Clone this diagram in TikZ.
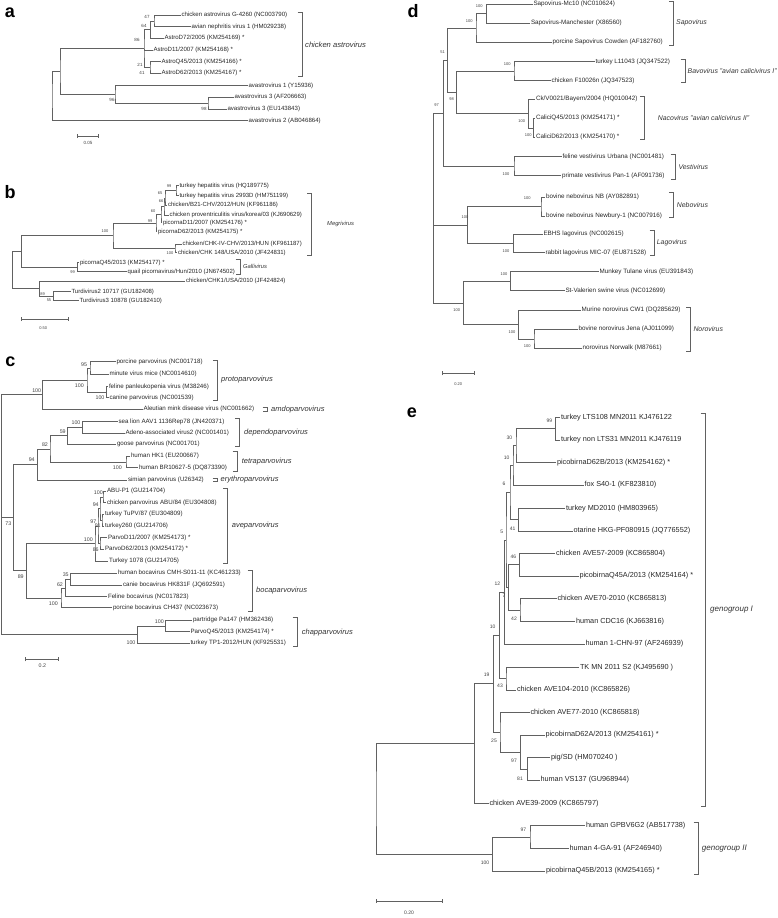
\documentclass[tikz,border=0pt]{standalone}
\usepackage{fontspec}
\setmainfont{Liberation Sans}
\usetikzlibrary{calc,arrows.meta}
\newcommand\leaf[4]{\node[leaf] (#1) at (#2,#3) {#4};}
\newcommand\clade[4]{\path ($(#3)!.5!(#4)$) coordinate (#1m);
  \coordinate (#1) at (#2,0 |- #1m);
  \draw[branch] (#3) -| (#1) |- (#4);}
\newcommand\bs[4]{\node[boot] (#1) at (#2,#3) {#4};}
\newcommand\brak[6]{\draw[brk] (#2-4.5,#3) -| (#2,#4) -- (#2-4.5,#4);
  \node[grp] (#1) at (#5,{(#3+#4)/2}) {#6};}
\tikzset{
  branch/.style={draw=black!62, line width=0.55pt},
  brk/.style={draw=black!62, line width=0.55pt},
  sbar/.style={draw=black!62, line width=0.55pt, {Bar[width=4pt]}-{Bar[width=4pt]}},
  leaf/.style={anchor=west, inner sep=0.8pt, text=black!85},
  boot/.style={inner sep=0pt, text=black!75},
  grp/.style={anchor=west, inner sep=0pt, text=black!80},
  panel/.style={inner sep=0pt, font=\fontsize{18}{20}\bfseries\selectfont}
}

\begin{document}
\begin{tikzpicture}[x=1pt,y=-1pt]
    \useasboundingbox (0,0) rectangle (778,918);

    % a
    \begin{scope}[leaf/.append style={font=\fontsize{6.1}{7}\selectfont},
                  boot/.append style={font=\fontsize{4.5}{5}\selectfont},
                  grp/.append style={font=\fontsize{7.6}{9}\selectfont\itshape}]
        \node[panel] (pa) at (10,13) {a};
        \leaf{a1}{180.5}{15}{chicken astrovirus G-4260 (NC003790)}
        \leaf{a2}{190.5}{26.7}{avian nephritis virus 1 (HM029238)}
        \leaf{a3}{163.5}{38.3}{AstroD72/2005 (KM254169) *}
        \leaf{a4}{152.5}{50}{AstroD11/2007 (KM254168) *}
        \leaf{a5}{160.5}{61.7}{AstroQ45/2013 (KM254166) *}
        \leaf{a6}{160.5}{73.3}{AstroD62/2013 (KM254167) *}
        \leaf{a7}{247.5}{85.7}{avastrovirus 1 (Y15936)}
        \leaf{a8}{233.5}{97.3}{avastrovirus 3 (AF206663)}
        \leaf{a9}{226.5}{109}{avastrovirus 3 (EU143843)}
        \leaf{a10}{247.5}{120.7}{avastrovirus 2 (AB046864)}
        \clade{a12}{154}{a1}{a2}
        \clade{a123}{150.5}{a12}{a3}
        \clade{a56}{150}{a5}{a6}
        \clade{ach}{144}{a123}{a56}
        \draw[branch] (ach) |- (a4);
        \clade{a89}{208}{a8}{a9}
        \clade{a789}{115}{a7}{a89}
        \clade{aR}{60}{ach}{a789}
        \clade{aroot}{52}{aR}{a10}
        \bs{ba1}{147}{17}{47}
        \bs{ba2}{144}{25.7}{64}
        \bs{ba3}{137}{40}{86}
        \bs{ba4}{140}{65}{21}
        \bs{ba5}{142}{73}{41}
        \bs{ba6}{112}{100}{96}
        \bs{ba7}{204}{109}{98}
        \brak{ga}{302}{12.7}{76.7}{305}{chicken astrovirus}
        \draw[sbar] (77,136) -- (99,136);
        \node[boot] (sa) at (88,143) {0.05};
    \end{scope}

    % b
    \begin{scope}[leaf/.append style={font=\fontsize{6}{7}\selectfont},
                  boot/.append style={font=\fontsize{4}{5}\selectfont},
                  grp/.append style={font=\fontsize{5.8}{7}\selectfont\itshape}]
        \node[panel] (pb) at (10,192) {b};
        \leaf{b1}{178.5}{185.7}{turkey hepatitis virus (HQ189775)}
        \leaf{b2}{178.5}{195.7}{turkey hepatitis virus 2993D (HM751199)}
        \leaf{b3}{167}{205}{chicken/B21-CHV/2012/HUN (KF961186)}
        \leaf{b4}{168.5}{215}{chicken proventriculitis virus/korea/03 (KJ690629)}
        \leaf{b5}{162}{222.7}{picornaD11/2007 (KM254176) *}
        \leaf{b6}{157}{231.7}{picornaD62/2013 (KM254175) *}
        \leaf{b7}{181.5}{244}{chicken/CHK-IV-CHV/2013/HUN (KF961187)}
        \leaf{b8}{177}{252.7}{chicken/CHK 148/USA/2010 (JF424831)}
        \leaf{b9}{79}{262.7}{picornaQ45/2013 (KM254177) *}
        \leaf{b10}{126.5}{271.7}{quail picornavirus/Hun/2010 (JN674502)}
        \leaf{b11}{185}{281}{chicken/CHK1/USA/2010 (JF424824)}
        \leaf{b12}{70.5}{291.7}{Turdivirus2 10717 (GU182408)}
        \leaf{b13}{78.5}{300.7}{Turdivirus3 10878 (GU182410)}
        \clade{b12n}{176}{b1}{b2}
        \clade{b123}{165}{b12n}{b3}
        \clade{b1234}{164}{b123}{b4}
        \clade{b12345}{161}{b1234}{b5}
        \clade{bup}{156}{b12345}{b6}
        \clade{b78}{175}{b7}{b8}
        \clade{bM}{113}{bup}{b78}
        \clade{bG}{77.3}{b9}{b10}
        \clade{bR}{21.7}{bM}{bG}
        \clade{bT}{53.3}{b12}{b13}
        \clade{bO}{39.7}{b11}{bT}
        \clade{broot}{12.3}{bR}{bO}
        \bs{bb1}{169}{186}{99}
        \bs{bb2}{160}{193.3}{65}
        \bs{bb3}{161}{201}{66}
        \bs{bb4}{153}{211}{60}
        \bs{bb5}{150}{221}{99}
        \bs{bb6}{105}{230.7}{100}
        \bs{bb7}{170}{252.7}{100}
        \bs{bb8}{72.7}{271.7}{99}
        \bs{bb9}{42.7}{293.7}{89}
        \bs{bb10}{49}{300.3}{55}
        \brak{gb1}{311.7}{193.3}{255}{327}{Megrivirus}
        \brak{gb2}{240}{259.3}{274.3}{243}{Gallivirus}
        \draw[sbar] (20.7,319) -- (68.3,319);
        \node[boot] (sb) at (43.3,328.3) {0.50};
    \end{scope}

    % c
    \begin{scope}[leaf/.append style={font=\fontsize{6.2}{7}\selectfont},
                  boot/.append style={font=\fontsize{5.3}{6}\selectfont},
                  grp/.append style={font=\fontsize{7.5}{9}\selectfont\itshape}]
        \node[panel] (pc) at (10.5,361.7) {c};
        \leaf{c1}{115.5}{361.7}{porcine parvovirus (NC001718)}
        \leaf{c2}{108.5}{374.3}{minute virus mice (NC0014610)}
        \leaf{c3}{108}{386.7}{feline panleukopenia virus (M38246)}
        \leaf{c4}{108.5}{397.7}{canine parvovirus (NC001539)}
        \leaf{c5}{142.5}{409.3}{Aleutian mink disease virus (NC001662)}
        \leaf{c6}{117.5}{421.7}{sea lion AAV1 1136Rep78 (JN420371)}
        \leaf{c7}{124.5}{433.3}{Adeno-associated virus2 (NC001401)}
        \leaf{c8}{116}{444}{goose parvovirus (NC001701)}
        \leaf{c9}{130}{456}{human HK1 (EU200667)}
        \leaf{c10}{138}{467.7}{human BR10627-5 (DQ873390)}
        \leaf{c11}{127}{480}{simian parvovirus (U26342)}
        \leaf{c12}{106}{491}{ABU-P1 (GU214704)}
        \leaf{c13}{106}{502.7}{chicken parvovirus ABU/84 (EU304808)}
        \leaf{c14}{104}{514.3}{turkey TuPV/87 (EU304809)}
        \leaf{c15}{104}{526}{turkey260 (GU214706)}
        \leaf{c16}{107}{537.7}{ParvoD11/2007 (KM254173) *}
        \leaf{c17}{104}{549.3}{ParvoD62/2013 (KM254172) *}
        \leaf{c18}{108}{561}{Turkey 1078 (GU214705)}
        \leaf{c19}{117}{573.3}{human bocavirus CMH-S011-11 (KC461233)}
        \leaf{c20}{122}{585}{canie bocavirus HK831F (JQ692591)}
        \leaf{c21}{107}{596.7}{Feline bocavirus (NC017823)}
        \leaf{c22}{112}{607.7}{porcine bocavirus CH437 (NC023673)}
        \leaf{c23}{192}{620}{partridge Pa147 (HM362436)}
        \leaf{c24}{189.5}{631.7}{ParvoQ45/2013 (KM254174) *}
        \leaf{c25}{189.5}{643.3}{turkey TP1-2012/HUN (KF925531)}
        \clade{c12n}{90}{c1}{c2}
        \clade{c34}{106.5}{c3}{c4}
        \clade{cP}{87}{c12n}{c34}
        \clade{cPA}{42.7}{cP}{c5}
        \clade{c67}{82.3}{c6}{c7}
        \clade{cDep}{67.7}{c67}{c8}
        \clade{cTet}{126}{c9}{c10}
        \clade{c82}{50}{cDep}{cTet}
        \clade{c94}{37.3}{c82}{c11}
        \clade{c1213}{103}{c12}{c13}
        \clade{c1415}{102}{c14}{c15}
        \clade{c94b}{100}{c1213}{c1415}
        \clade{c1617}{100}{c16}{c17}
        \clade{c97}{98}{c94b}{c1617}
        \clade{cAv}{95}{c97}{c18}
        \clade{c1920}{70.7}{c19}{c20}
        \clade{c62}{65.7}{c1920}{c21}
        \clade{cBo}{61}{c62}{c22}
        \clade{c89}{26.7}{cAv}{cBo}
        \clade{c73}{13.3}{c94}{c89}
        \clade{c2324}{165.7}{c23}{c24}
        \clade{cCh}{137.7}{c2324}{c25}
        \clade{croot}{1.5}{cPA}{cCh}
        \draw[branch] (croot |- c73) -- (c73);
        \bs{bc1}{84}{365}{95}
        \bs{bc2}{79.3}{385.7}{100}
        \bs{bc3}{100}{397.7}{100}
        \bs{bc4}{36.7}{391}{100}
        \bs{bc5}{76}{422.7}{100}
        \bs{bc6}{62.7}{431.7}{59}
        \bs{bc7}{45}{445}{82}
        \bs{bc8}{31.7}{460}{94}
        \bs{bc9}{117.3}{467.7}{100}
        \bs{bc10}{8.3}{523.3}{73}
        \bs{bc11}{98.3}{492.7}{100}
        \bs{bc12}{95.7}{505}{94}
        \bs{bc13}{93.3}{521.7}{97}
        \bs{bc14}{97.7}{526}{91}
        \bs{bc15}{88.3}{539.3}{100}
        \bs{bc16}{95.7}{549.3}{86}
        \bs{bc17}{20.7}{576.7}{89}
        \bs{bc18}{65.7}{575}{35}
        \bs{bc19}{60}{585}{62}
        \bs{bc20}{53.3}{603.3}{100}
        \bs{bc21}{159.3}{621.7}{100}
        \bs{bc22}{131}{642.7}{100}
        \brak{gc1}{217.3}{360}{400}{221}{protoparvovirus}
        \brak{gc2}{267}{407}{411.7}{271}{amdoparvovirus}
        \brak{gc3}{239.3}{418}{446.7}{244}{dependoparvovirus}
        \brak{gc4}{237}{451.7}{471.7}{241.7}{tetraparvovirus}
        \brak{gc5}{217}{478.3}{481.7}{220.5}{erythroparvovirus}
        \brak{gc6}{227.7}{488}{563}{231.7}{aveparvovirus}
        \brak{gc7}{252}{570}{611.7}{256}{bocaparvovirus}
        \brak{gc8}{297}{617.7}{646.7}{301.7}{chapparvovirus}
        \draw[sbar] (25,659.3) -- (58.3,659.3);
        \node[boot] (sc) at (42.3,666) {0.2};
    \end{scope}

    % d
    \begin{scope}[leaf/.append style={font=\fontsize{6.3}{7}\selectfont},
                  boot/.append style={font=\fontsize{4}{5}\selectfont},
                  grp/.append style={font=\fontsize{6.9}{8}\selectfont\itshape}]
        \node[panel] (pd) at (413,11) {d};
        \leaf{d1}{532.5}{4}{Sapovirus-Mc10 (NC010624)}
        \leaf{d2}{530}{23.3}{Sapovirus-Manchester (X86560)}
        \leaf{d3}{551.5}{42.3}{porcine Sapovirus Cowden (AF182760)}
        \leaf{d4}{594.5}{61.7}{turkey L11043 (JQ347522)}
        \leaf{d5}{550.5}{80.7}{chicken F10026n (JQ347523)}
        \leaf{d6}{535}{99.3}{Ck/V0021/Bayern/2004 (HQ010042)}
        \leaf{d7}{535}{118.3}{CaliciQ45/2013 (KM254171) *}
        \leaf{d8}{535}{137.3}{CaliciD62/2013 (KM254170) *}
        \leaf{d9}{561.5}{156.7}{feline vestivirus Urbana (NC001481)}
        \leaf{d10}{561}{175.7}{primate vestivirus Pan-1 (AF091736)}
        \leaf{d11}{545}{197.3}{bovine nebovirus NB (AY082891)}
        \leaf{d12}{545}{216}{bovine nebovirus Newbury-1 (NC007916)}
        \leaf{d13}{542.5}{234}{EBHS lagovirus (NC002615)}
        \leaf{d14}{544.5}{252.7}{rabbit lagovirus MIC-07 (EU871528)}
        \leaf{d15}{598.5}{271.7}{Munkey Tulane virus (EU391843)}
        \leaf{d16}{564.5}{290.7}{St-Valerien swine virus (NC012699)}
        \leaf{d17}{580.5}{310}{Murine norovirus CW1 (DQ285629)}
        \leaf{d18}{577.5}{329.3}{bovine norovirus Jena (AJ011099)}
        \leaf{d19}{581.5}{348.3}{norovirus Norwalk (M87661)}
        \clade{d12n}{486.7}{d1}{d2}
        \clade{dSa}{476}{d12n}{d3}
        \clade{dBv}{514}{d4}{d5}
        \clade{d78}{533.5}{d7}{d8}
        \clade{dNa}{528.3}{d6}{d78}
        \clade{d98}{456.7}{dBv}{dNa}
        \clade{d51}{447.3}{dSa}{d98}
        \clade{dVe}{514}{d9}{d10}
        \clade{d97}{443.3}{d51}{dVe}
        \clade{dNb}{541}{d11}{d12}
        \clade{dLa}{513.3}{d13}{d14}
        \clade{dNL}{467.7}{dNb}{dLa}
        \clade{dMT}{510.7}{d15}{d16}
        \clade{dnj}{534}{d18}{d19}
        \clade{dNo}{518.3}{d17}{dnj}
        \clade{dMN}{463.3}{dMT}{dNo}
        \clade{droot}{433.3}{d97}{dMN}
        \draw[branch] (droot |- dNL) -- (dNL);
        \bs{bd1}{479.3}{6}{100}
        \bs{bd2}{469.3}{21}{100}
        \bs{bd3}{442.7}{52.3}{51}
        \bs{bd4}{507.3}{64}{100}
        \bs{bd5}{451.7}{99}{98}
        \bs{bd6}{436.7}{105}{97}
        \bs{bd7}{521.7}{120.7}{100}
        \bs{bd8}{528.3}{135}{100}
        \bs{bd9}{506}{174}{100}
        \bs{bd10}{527.3}{197.7}{100}
        \bs{bd11}{465}{217.3}{100}
        \bs{bd12}{506}{250.7}{100}
        \bs{bd13}{504}{274.3}{100}
        \bs{bd14}{456.7}{310}{100}
        \bs{bd15}{512}{331.7}{100}
        \bs{bd16}{527.3}{346}{100}
        \brak{gd1}{673.3}{1}{45}{676}{Sapovirus}
        \brak{gd2}{685}{59.3}{82.7}{687.5}{Bavovirus "avian calicivirus I"}
        \brak{gd3}{644.3}{96.7}{139.3}{657.7}{Nacovirus "avian calicivirus II"}
        \brak{gd4}{675}{154}{179.3}{678.3}{Vestivirus}
        \brak{gd5}{673.3}{192.7}{217.3}{676.7}{Nebovirus}
        \brak{gd6}{654}{230.7}{255}{656.7}{Lagovirus}
        \brak{gd7}{690.7}{307.3}{351}{693.3}{Norovirus}
        \draw[sbar] (441.7,373.3) -- (475,373.3);
        \node[boot] (sd) at (458.3,384.3) {0.20};
    \end{scope}

    % e
    \begin{scope}[leaf/.append style={font=\fontsize{7.3}{8}\selectfont},
                  boot/.append style={font=\fontsize{5}{6}\selectfont},
                  grp/.append style={font=\fontsize{8}{9}\selectfont\itshape}]
        \node[panel] (pe) at (412,413) {e};
        \leaf{e1}{560}{417.3}{turkey LTS108 MN2011 KJ476122}
        \leaf{e2}{560}{440}{turkey non LTS31 MN2011 KJ476119}
        \leaf{e3}{556}{462.7}{picobirnaD62B/2013 (KM254162) *}
        \leaf{e4}{583.5}{485}{fox S40-1 (KF823810)}
        \leaf{e5}{565}{508.3}{turkey MD2010 (HM803965)}
        \leaf{e6}{572.5}{531}{otarine HKG-PF080915 (JQ776552)}
        \leaf{e7}{555}{553.3}{chicken AVE57-2009 (KC865804)}
        \leaf{e8}{578.5}{576}{picobirnaQ45A/2013 (KM254164) *}
        \leaf{e9}{556.5}{598.7}{chicken AVE70-2010 (KC865813)}
        \leaf{e10}{575}{621.7}{human CDC16 (KJ663816)}
        \leaf{e11}{584.5}{644}{human 1-CHN-97 (AF246939)}
        \leaf{e12}{579}{667.3}{TK MN 2011 S2 (KJ495690 )}
        \leaf{e13}{516}{690}{chicken AVE104-2010 (KC865826)}
        \leaf{e14}{529.5}{712.3}{chicken AVE77-2010 (KC865818)}
        \leaf{e15}{544.5}{735}{picobirnaD62A/2013 (KM254161) *}
        \leaf{e16}{550}{757.7}{pig/SD (HM070240 )}
        \leaf{e17}{539.5}{780}{human VS137 (GU968944)}
        \leaf{e18}{488.5}{803.3}{chicken AVE39-2009 (KC865797)}
        \leaf{e19}{585}{825.7}{human GPBV6G2 (AB517738)}
        \leaf{e20}{568.5}{848.3}{human 4-GA-91 (AF246940)}
        \leaf{e21}{545}{871}{picobirnaQ45B/2013 (KM254165) *}
        \clade{e12n}{555.7}{e1}{e2}
        \clade{e30}{516}{e12n}{e3}
        \clade{e10n}{513}{e30}{e4}
        \clade{e41}{518.3}{e5}{e6}
        \clade{e6n}{510}{e10n}{e41}
        \clade{e46}{519.3}{e7}{e8}
        \clade{e42}{520}{e9}{e10}
        \clade{e7n}{508.3}{e46}{e42}
        \clade{e5n}{506}{e6n}{e7n}
        \clade{e12b}{504.3}{e5n}{e11}
        \clade{e43}{506}{e12}{e13}
        \clade{e10b}{499.3}{e12b}{e43}
        \clade{e81}{527.7}{e16}{e17}
        \clade{e97}{520.7}{e15}{e81}
        \clade{e25}{500}{e14}{e97}
        \clade{e19n}{493.3}{e10b}{e25}
        \clade{eG1}{474.3}{e19n}{e18}
        \clade{e97b}{530}{e19}{e20}
        \clade{eG2}{492.3}{e97b}{e21}
        \clade{eroot}{376}{eG1}{eG2}
        \bs{be1}{549.3}{420.7}{99}
        \bs{be2}{509.3}{437.3}{30}
        \bs{be3}{506.7}{457.7}{10}
        \bs{be4}{504}{483.3}{6}
        \bs{be5}{512.7}{528.3}{41}
        \bs{be6}{501.7}{531.7}{5}
        \bs{be7}{513.3}{556.7}{46}
        \bs{be8}{504}{595.7}{7}
        \bs{be9}{514}{618.3}{42}
        \bs{be10}{497.3}{584}{12}
        \bs{be11}{492.7}{626.7}{10}
        \bs{be12}{486.7}{675}{19}
        \bs{be13}{500}{686}{43}
        \bs{be14}{494}{740.7}{25}
        \bs{be15}{514}{760.7}{97}
        \bs{be16}{520}{779}{81}
        \bs{be17}{523.3}{829.3}{97}
        \bs{be18}{485}{862.7}{100}
        \brak{ge1}{705}{413.3}{806}{710}{genogroup I}
        \brak{ge2}{698}{822.7}{874.3}{701.7}{genogroup II}
        \draw[sbar] (376,901) -- (442.7,901);
        \node[boot] (se) at (409,913) {0.20};
    \end{scope}
\end{tikzpicture}
\end{document}
